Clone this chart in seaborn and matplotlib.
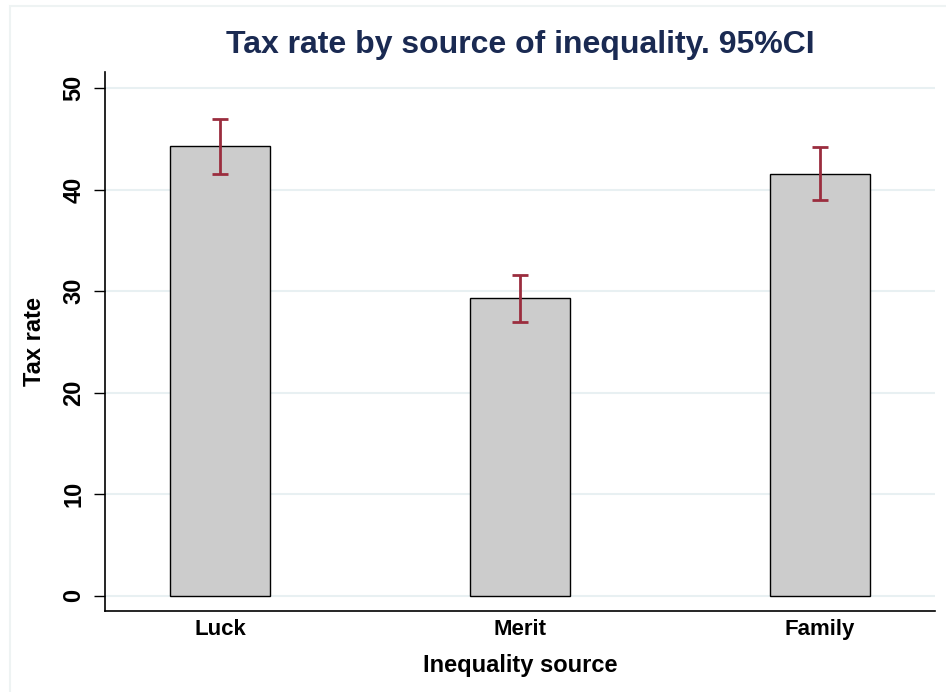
import matplotlib
matplotlib.use("Agg")
import matplotlib.pyplot as plt
import seaborn as sns
import pandas as pd
from matplotlib.patches import Rectangle

# data
sources = ["Luck", "Merit", "Family"]
tax_mean = [44.3, 29.3, 41.6]
ci_low = [41.6, 27.0, 39.0]
ci_high = [47.0, 31.6, 44.2]

df = pd.DataFrame({"source": sources, "tax": tax_mean})

sns.set_style("white")
plt.rcParams["font.family"] = ["Liberation Sans", "DejaVu Sans"]
plt.rcParams["font.weight"] = "bold"
plt.rcParams["text.color"] = "black"
plt.rcParams["axes.labelcolor"] = "black"
plt.rcParams["xtick.color"] = "black"
plt.rcParams["ytick.color"] = "black"

fig = plt.figure(figsize=(9.46, 6.92), dpi=100)
# faint outer frame like the stata graph region
fig.patches.append(Rectangle((10 / 946, -0.01), 1.0, 1.0 - 6 / 692 + 0.01,
                             transform=fig.transFigure, fill=False,
                             edgecolor="#eef3f3", linewidth=1.5))
ax = fig.add_axes([105 / 946, 81 / 692, 830 / 946, 539 / 692])

sns.barplot(data=df, x="source", y="tax", color="#cccccc", width=1 / 3,
            edgecolor="black", linewidth=1, saturation=1, ax=ax, zorder=2)

mid = [(l + h) / 2 for l, h in zip(ci_low, ci_high)]
half = [(h - l) / 2 for l, h in zip(ci_low, ci_high)]
ax.errorbar(range(len(sources)), mid, yerr=half, fmt="none",
            ecolor="#9b2d3e", elinewidth=2, capsize=6, capthick=2, zorder=3)

ax.set_xlim(-0.383, 2.383)
ax.set_ylim(-1.5, 51.6)
ax.set_yticks([0, 10, 20, 30, 40, 50])
ax.yaxis.grid(True, color="#e8f0f2", linewidth=1.5, zorder=0)
ax.set_axisbelow(True)

for s in ["top", "right"]:
    ax.spines[s].set_visible(False)
for s in ["left", "bottom"]:
    ax.spines[s].set_color("black")
    ax.spines[s].set_linewidth(1.2)

ax.tick_params(axis="y", direction="out", length=8, width=1, left=True,
               labelsize=17, labelrotation=90, pad=6)
ax.tick_params(axis="x", length=0, labelsize=16, pad=6)
for lab in ax.get_yticklabels():
    lab.set_va("center")

ax.set_xlabel("Inequality source", fontsize=17, fontweight="bold", labelpad=10)
ax.set_ylabel("Tax rate", fontsize=17, fontweight="bold", labelpad=12)
ax.set_title("Tax rate by source of inequality. 95%CI", fontsize=23,
             fontweight="bold", color="#1a2a52", pad=14)

fig.savefig("out.png", dpi=100)
